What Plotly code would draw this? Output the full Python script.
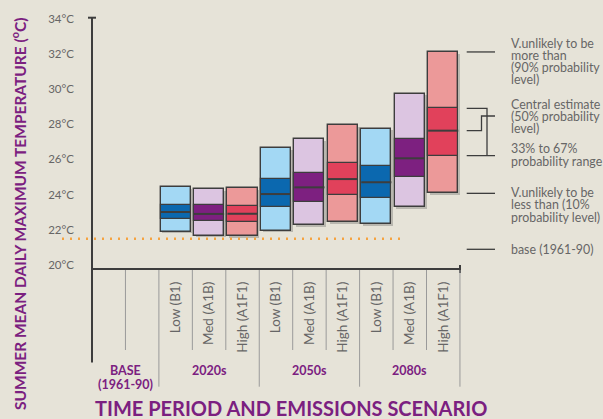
import plotly.graph_objects as go

# summer mean daily max temperature, London, by period and emissions scenario
scenarios = ["Low (B1)", "Med (A1B)", "High (A1F1)"] * 3
periods = ["2020s", "2050s", "2080s"]
p10 = [21.89, 21.66, 21.65, 21.95, 22.25, 22.43, 22.33, 23.29, 24.07]
p33 = [22.61, 22.48, 22.44, 23.28, 23.60, 23.96, 23.79, 24.98, 26.21]
p50 = [23.01, 22.90, 22.91, 24.03, 24.41, 24.88, 24.70, 26.06, 27.63]
p67 = [23.41, 23.39, 23.35, 24.88, 25.24, 25.81, 25.61, 27.17, 28.90]
p90 = [24.41, 24.30, 24.36, 26.63, 27.14, 27.93, 27.74, 29.73, 32.10]
base_temp = 21.49
temp_ticks = [20, 22, 24, 26, 28, 30, 32, 34]

light = ["#a3d8f4", "#dcc5e1", "#ec9999"]
dark = ["#0b68af", "#7d2080", "#e1415b"]
bg = "#e6e3d8"
purple = "#7b2080"
ink = "#3d3d3d"
grey_txt = "#666666"
FONT = "Lato"

W, H = 603, 419
X0, COLW = 92, 33.45          # pixel of column 0 and column width
Y34, PX_DEG = 18.5, 17.607    # pixel of 34C and px per degree


def px(x):
    return x / W


def py(y):
    return 1 - y / H


def col_x(p):
    return (p - X0) / COLW


def deg_y(p):
    return 34 - (p - Y34) / PX_DEG


centers = [i + 2.5 for i in range(9)]
light_c = [light[i % 3] for i in range(9)]
dark_c = [dark[i % 3] for i in range(9)]

fig = go.Figure()

# soft shadow
fig.add_trace(go.Bar(x=[c + 0.05 for c in centers], y=[a - b for a, b in zip(p90, p10)],
                     base=[b - 0.09 for b in p10], width=0.9,
                     marker=dict(color="rgba(70,70,70,0.28)", line=dict(width=0)),
                     hoverinfo="skip"))
fig.add_trace(go.Bar(x=centers, y=[a - b for a, b in zip(p90, p10)], base=p10, width=0.9,
                     marker=dict(color=light_c, line=dict(color=ink, width=1.4))))
fig.add_trace(go.Bar(x=centers, y=[a - b for a, b in zip(p67, p33)], base=p33, width=0.9,
                     marker=dict(color=dark_c, line=dict(color=ink, width=1.2))))

mx, my = [], []
for c, m in zip(centers, p50):
    mx += [c - 0.45, c + 0.45, None]
    my += [m, m, None]
fig.add_trace(go.Scatter(x=mx, y=my, mode="lines", line=dict(color=ink, width=2),
                         hoverinfo="skip"))

shapes = []
# base dotted line
shapes.append(dict(type="line", xref="x", yref="y", x0=col_x(62), x1=col_x(402),
                   y0=base_temp, y1=base_temp,
                   line=dict(color="#f5a340", width=2.5, dash="2px,6px")))
# axes
shapes.append(dict(type="line", xref="paper", yref="paper", x0=px(92), x1=px(92),
                   y0=py(17.7), y1=py(362.5), line=dict(color=ink, width=2)))
shapes.append(dict(type="line", xref="paper", yref="paper", x0=px(88), x1=px(96),
                   y0=py(17.7), y1=py(17.7), line=dict(color=ink, width=2)))
shapes.append(dict(type="line", xref="paper", yref="paper", x0=px(92), x1=px(460),
                   y0=py(269), y1=py(269), line=dict(color=ink, width=2)))
shapes.append(dict(type="line", xref="paper", yref="paper", x0=px(460), x1=px(460),
                   y0=py(265), y1=py(273), line=dict(color=ink, width=2)))
# column separators
for b in range(1, 12):
    bottom = 386.7 if b in (2, 5, 8, 11) else 350
    shapes.append(dict(type="line", xref="x", yref="paper", x0=b, x1=b,
                       y0=py(270), y1=py(bottom), line=dict(color="#9a9a9a", width=1)))

# legend key lines, tied to the last box
lx0, lx1 = col_x(466.7), col_x(495)
bx, ix = col_x(487), col_x(481.5)
key = dict(color=ink, width=1.3)
for yv in (p90[-1], p10[-1]):
    shapes.append(dict(type="line", xref="x", yref="y", x0=lx0, x1=lx1, y0=yv, y1=yv, line=key))
shapes.append(dict(type="line", xref="x", yref="paper", x0=lx0, x1=lx1,
                   y0=py(249.3), y1=py(249.3), line=key))
shapes.append(dict(type="path", xref="x", yref="y", line=key,
                   path=f"M {lx0} {p67[-1]} L {bx} {p67[-1]} L {bx} {p33[-1]} "
                        f"M {lx0} {p33[-1]} L {lx1} {p33[-1]}"))
step_y = deg_y(116)
shapes.append(dict(type="path", xref="x", yref="y", line=key,
                   path=f"M {lx0} {p50[-1]} L {ix} {p50[-1]} L {ix} {step_y} L {lx1} {step_y}"))

ann = []
legend_lines = [
    ("V.unlikely to be", 44), ("more than", 55.7), ("(90% probability", 67.4), ("level)", 79),
    ("Central estimate", 104), ("(50% probability", 116.3), ("level)", 128.5),
    ("33% to 67%", 148.7), ("probability range", 161.3),
    ("V.unlikely to be", 192.5), ("less than (10%", 204.8), ("probability level)", 217),
    ("base (1961-90)", 249.3),
]
for txt, yy in legend_lines:
    ann.append(dict(text=txt, x=px(509), y=py(yy), xref="paper", yref="paper",
                    xanchor="left", yanchor="middle", showarrow=False,
                    font=dict(family=FONT, size=12.4, color=grey_txt)))

for i, per in enumerate(periods):
    ann.append(dict(text="<b>%s</b>" % per, x=3.5 + 3 * i, y=py(370), xref="x", yref="paper",
                    xanchor="center", yanchor="middle", showarrow=False,
                    font=dict(family=FONT, size=12.5, color=purple)))
ann.append(dict(text="<b>BASE</b>", x=1, y=py(370), xref="x", yref="paper",
                xanchor="center", yanchor="middle", showarrow=False,
                font=dict(family=FONT, size=12.5, color=purple)))
ann.append(dict(text="<b>(1961-90)</b>", x=1, y=py(384), xref="x", yref="paper",
                xanchor="center", yanchor="middle", showarrow=False,
                font=dict(family=FONT, size=12.5, color=purple)))
ann.append(dict(text="<b>TIME PERIOD AND EMISSIONS SCENARIO</b>", x=px(291), y=py(407.5),
                xref="paper", yref="paper", xanchor="center", yanchor="middle",
                showarrow=False, font=dict(family=FONT, size=20, color=purple)))
ann.append(dict(text="<b>SUMMER MEAN DAILY MAXIMUM TEMPERATURE (<sup>o</sup>C)</b>",
                x=px(18.5), y=py(213.5), xref="paper", yref="paper", textangle=-90,
                xanchor="center", yanchor="middle", showarrow=False,
                font=dict(family=FONT, size=15.5, color=purple)))

fig.update_layout(
    width=W, height=H, margin=dict(l=0, r=0, t=0, b=0),
    paper_bgcolor=bg, plot_bgcolor=bg, barmode="overlay", bargap=0,
    showlegend=False, shapes=shapes, annotations=ann,
    xaxis=dict(range=[col_x(0), col_x(W)], anchor="free", position=py(269),
               tickvals=centers, ticktext=scenarios, tickangle=-90, ticks="",
               ticklabelstandoff=9, showgrid=False, zeroline=False, showline=False,
               tickfont=dict(family=FONT, size=13.5, color=grey_txt)),
    yaxis=dict(range=[deg_y(H), deg_y(0)], anchor="free", position=px(92),
               tickvals=temp_ticks, ticktext=["%d°C" % t for t in temp_ticks],
               ticks="", ticklabelstandoff=18, showgrid=False, zeroline=False,
               showline=False, tickfont=dict(family=FONT, size=11.5, color=grey_txt)),
)

fig.write_html("out.html", config={"displayModeBar": False},
               post_script="document.body.style.margin='0';document.body.style.background='%s';" % bg)
